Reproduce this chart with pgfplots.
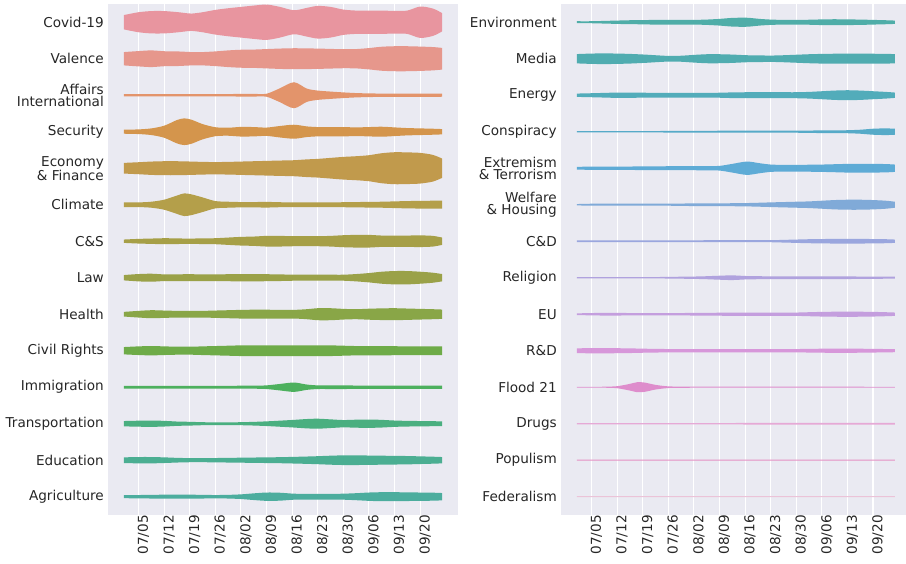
\documentclass[border=0pt]{standalone}
\usepackage{pgfplots}
\pgfplotsset{compat=1.18}
\usepackage{pgfplotstable}
\usepgfplotslibrary{fillbetween}
\usepackage{fontspec}
\setmainfont{DejaVu Sans}

\definecolor{bgc}{HTML}{EAEAF2}
\definecolor{txt}{HTML}{262626}
\definecolor{L0}{HTML}{E8959F}
\definecolor{L1}{HTML}{E6978C}
\definecolor{L2}{HTML}{E3946B}
\definecolor{L3}{HTML}{D4954C}
\definecolor{L4}{HTML}{C19A4C}
\definecolor{L5}{HTML}{B49F4A}
\definecolor{L6}{HTML}{A69F47}
\definecolor{L7}{HTML}{9AA148}
\definecolor{L8}{HTML}{89A647}
\definecolor{L9}{HTML}{6EAB48}
\definecolor{L10}{HTML}{4DB05E}
\definecolor{L11}{HTML}{4AAF80}
\definecolor{L12}{HTML}{4BAE92}
\definecolor{L13}{HTML}{4CAD9E}
\definecolor{R0}{HTML}{4FADA8}
\definecolor{R1}{HTML}{50ACB0}
\definecolor{R2}{HTML}{52ACBA}
\definecolor{R3}{HTML}{56AAC8}
\definecolor{R4}{HTML}{5EABD6}
\definecolor{R5}{HTML}{80AAD8}
\definecolor{R6}{HTML}{9AA6DE}
\definecolor{R7}{HTML}{B0A2DE}
\definecolor{R8}{HTML}{C49EDE}
\definecolor{R9}{HTML}{D797DA}
\definecolor{R10}{HTML}{DE8DCC}
\definecolor{R11}{HTML}{E6A9D6}
\definecolor{R12}{HTML}{E590C3}
\definecolor{R13}{HTML}{EBC3D8}

% d = days after 07/05; c = full thickness of each ridge (in 1/3 px units)
\pgfplotstableread{
d    c0  c1  c2  c3  c4  c5  c6  c7  c8  c9  c10 c11 c12 c13
-4   43  40  7   12  32  14  10  16  14  22  8   16  17  9
0    60  46  7   14  36  14  14  22  20  26  8   18  19  10
3.5  67  50  7   20  40  18  16  24  24  28  8   19  19  11
7    67  45  7   36  42  30  18  20  22  26  8   17  17  12
10.5 61  44  7   70  42  55  17  20  20  24  8   13  14  12
12.5 56  42  7   80  41  68  16  21  20  24  8   12  13  12
14.5 52  40  7   72  40  62  16  21  20  24  8   11  12  12
17.5 60  40  7   46  38  44  17  20  20  26  8   9   12  11
21   74  44  7   27  37  22  18  20  22  28  8   8   13  10
24.5 84  50  7   24  38  18  22  21  24  30  8   8   14  11
28   92  54  8   29  40  16  26  22  26  32  9   9   15  14
31.5 100 55  8   28  42  16  28  22  27  32  9   11  16  20
35   106 58  9   25  44  17  32  21  27  32  11  14  17  25
38.5 93  61  40  34  46  15  32  20  26  32  19  18  18  24
42.5 72  63  78  42  48  14  30  18  26  32  28  23  20  18
46   86  62  40  32  53  14  30  18  30  32  16  28  22  17
49   98  61  28  28  56  14  30  18  36  32  11  30  24  17
52.5 92  59  22  28  62  14  32  18  36  32  11  26  27  17
56   76  57  17  28  68  15  36  18  32  30  11  22  29  18
59.5 70  58  13  26  72  16  38  22  30  28  10  24  29  21
63   70  64  11  28  78  17  38  28  33  28  10  25  28  25
66.5 70  72  10  30  90  18  34  36  35  28  10  23  27  27
70   68  75  10  26  96  20  34  40  36  27  10  19  26  27
73.5 70  75  10  22  95  22  34  40  34  26  10  17  25  26
77   94  73  10  20  92  23  35  36  32  26  10  16  23  25
80.5 82  70  10  18  80  24  32  30  30  26  10  15  21  24
83   55  65  9   16  58  24  22  22  28  26  10  14  19  22
}\lefttab

\pgfplotstableread{
d    c0  c1  c2  c3  c4  c5  c6  c7  c8  c9  c10 c11 c12 c13
-4   6   28  10  4   8   4   5   4   5   14  2   4   3   3
0    6   31  12  4   10  6   5   4   7   16  2   4   3   3
3.5  8   32  14  4   10  6   5   4   8   16  3   4   3   3
7    10  31  16  4   10  6   5   4   8   15  6   4   3   3
10.5 12  29  16  4   10  6   5   4   7   14  20  4   3   3
12.5 12  27  15  4   11  6   5   4   7   13  30  4   3   3
14.5 13  25  15  4   11  6   5   4   7   12  28  4   3   3
17.5 14  21  14  4   11  6   5   4   7   11  14  4   3   3
21   14  17  14  5   12  6   5   5   7   10  5   4   3   3
24.5 14  18  14  5   12  7   5   6   7   10  4   4   3   3
28   14  23  14  5   12  8   5   7   8   10  3   4   3   3
31.5 16  27  14  5   13  8   6   9   8   10  3   4   3   3
35   20  27  15  6   14  8   6   12  9   10  3   4   3   3
38.5 26  25  17  6   26  9   6   14  10  10  3   4   3   3
42.5 27  21  18  6   40  10  6   10  10  10  3   5   3   3
46   20  20  18  6   30  12  6   9   10  10  3   5   3   3
49   16  19  18  6   22  14  6   8   10  10  3   5   3   3
52.5 14  21  18  6   20  16  8   8   10  10  3   5   3   3
56   14  24  18  6   20  18  10  8   10  10  3   5   3   3
59.5 15  27  20  7   21  20  12  8   12  11  3   5   3   3
63   17  29  24  8   22  24  13  8   14  12  3   5   3   3
66.5 18  30  28  8   24  28  14  8   15  13  3   5   3   3
70   17  30  30  9   26  30  14  8   16  13  3   5   3   3
73.5 16  30  28  12  26  30  14  7   15  12  3   5   3   3
77   14  30  24  18  26  28  13  7   14  11  2   5   3   3
80.5 12  29  20  20  25  24  12  6   12  10  2   5   3   3
83   10  28  16  18  22  18  10  6   10  9   2   5   3   3
}\righttab

\pgfplotsset{
  ridge/.style={
    scale only axis,
    anchor=south west,
    height=511pt,
    ymin=-0.5, ymax=13.5,
    y dir=reverse,
    axis background/.style={fill=bgc},
    axis line style={draw=none},
    major tick length=0pt,
    xmajorgrids,
    ymajorgrids=false,
    grid style={white, line width=1.1pt},
    xtick={0,7,...,77},
    xticklabels={07/05,07/12,07/19,07/26,08/02,08/09,08/16,08/23,08/30,09/06,09/13,09/20},
    ytick={0,...,13},
    tick label style={font=\fontsize{13.6}{12}\selectfont, text=txt, inner sep=0pt},
    xticklabel style={rotate=90, anchor=east, yshift=-5pt},
    yticklabel style={align=right, anchor=east, xshift=-4pt},
  }
}

\begin{document}
\begin{tikzpicture}
\path (0pt,0pt) rectangle (906pt,564pt);

\begin{axis}[ridge, at={(108pt,49pt)}, width=350pt, xmin=-8.35, xmax=87.35,
  yticklabels={Covid-19,Valence,{Affairs\\International},Security,{Economy\\\& Finance},Climate,C\&S,Law,Health,Civil Rights,Immigration,Transportation,Education,Agriculture}]
\pgfplotsinvokeforeach{0,...,13}{
  \addplot[draw=none, smooth, name path=lu#1] table[x=d, y expr=#1+\thisrow{c#1}/219] {\lefttab};
  \addplot[draw=none, smooth, name path=ll#1] table[x=d, y expr=#1-\thisrow{c#1}/219] {\lefttab};
  \addplot[fill=L#1, draw=none] fill between[of=lu#1 and ll#1];
}
\end{axis}

\begin{axis}[ridge, at={(561pt,49pt)}, width=345pt, xmin=-8.35, xmax=85.99,
  yticklabels={Environment,Media,Energy,Conspiracy,{Extremism\\\& Terrorism},{Welfare\\\& Housing},C\&D,Religion,EU,R\&D,Flood 21,Drugs,Populism,Federalism}]
\pgfplotsinvokeforeach{0,...,13}{
  \addplot[draw=none, smooth, name path=ru#1] table[x=d, y expr=#1+\thisrow{c#1}/219] {\righttab};
  \addplot[draw=none, smooth, name path=rl#1] table[x=d, y expr=#1-\thisrow{c#1}/219] {\righttab};
  \addplot[fill=R#1, draw=none] fill between[of=ru#1 and rl#1];
}
\end{axis}
\end{tikzpicture}
\end{document}
